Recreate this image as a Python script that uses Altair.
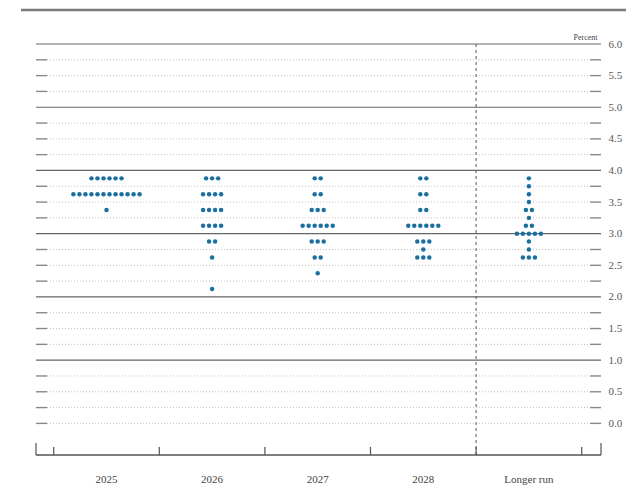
import altair as alt
import pandas as pd

# ---- data ----
categories = ["2025", "2026", "2027", "2028", "Longer run"]

levels_2025 = [3.875, 3.625, 3.375]
counts_2025 = [6, 12, 1]
levels_2026 = [3.875, 3.625, 3.375, 3.125, 2.875, 2.625, 2.125]
counts_2026 = [3, 4, 4, 4, 2, 1, 1]
levels_2027 = [3.875, 3.625, 3.375, 3.125, 2.875, 2.625, 2.375]
counts_2027 = [2, 2, 3, 6, 3, 2, 1]
levels_2028 = [3.875, 3.625, 3.375, 3.125, 2.875, 2.75, 2.625]
counts_2028 = [2, 2, 2, 6, 3, 1, 3]
levels_lr = [3.875, 3.75, 3.625, 3.5, 3.375, 3.25, 3.125, 3.0, 2.875, 2.75, 2.625]
counts_lr = [1, 1, 1, 1, 2, 1, 2, 5, 1, 1, 3]

y_labels = [0.0, 0.5, 1.0, 1.5, 2.0, 2.5, 3.0, 3.5, 4.0, 4.5, 5.0, 5.5, 6.0]
grid_levels = [i * 0.25 for i in range(25)]

# ---- build tables ----
columns = [
    (levels_2025, counts_2025),
    (levels_2026, counts_2026),
    (levels_2027, counts_2027),
    (levels_2028, counts_2028),
    (levels_lr, counts_lr),
]
DOT_STEP = 0.057
rows = []
for ci, (lv, cn) in enumerate(columns):
    for v, n in zip(lv, cn):
        for j in range(n):
            rows.append({"x": ci + (j - (n - 1) / 2) * DOT_STEP, "y": v, "cat": categories[ci]})
dots = pd.DataFrame(rows)

X0, X1 = -0.6676, 4.6828
XL, XR = -0.5634, 4.5786


def is_solid(g):
    return g >= 1 and float(g).is_integer()


solid = pd.DataFrame([{"y": g, "x": X0, "x2": X1} for g in grid_levels if is_solid(g)])
dotted = pd.DataFrame([{"y": g, "x": XL, "x2": XR} for g in grid_levels if not is_solid(g)])
dash_l = pd.DataFrame([{"y": g, "x": X0, "x2": XL} for g in grid_levels if not is_solid(g)])
dash_r = pd.DataFrame([{"y": g, "x": XR, "x2": X1} for g in grid_levels if not is_solid(g)])

cat_df = pd.DataFrame({"x": list(range(len(categories))), "label": categories})
edge_df = pd.DataFrame({"x": [i - 0.5 for i in range(len(categories) + 1)]})
end_df = pd.DataFrame({"x": [X0, X1]})
axis_df = pd.DataFrame({"x": [X0], "x2": [X1]})
sep_df = pd.DataFrame({"x": [len(categories) - 1.5], "y": [6.0], "y2": [-0.5]})

FONT = "Liberation Serif"
xscale = alt.Scale(domain=[X0, X1], nice=False, zero=False)
yscale = alt.Scale(domain=[-0.5, 6.0], nice=False, zero=False)
yaxis = alt.Axis(
    orient="right", values=y_labels, format=".1f", grid=False, ticks=False, domain=False,
    labelPadding=7, labelFont=FONT, labelFontSize=11, labelColor="#555",
    title="Percent", titleAngle=0, titleAlign="right", titleX=-4, titleY=-5,
    titleFont=FONT, titleFontSize=8, titleFontWeight="normal", titleColor="#444",
    titleBaseline="alphabetic",
)
X = alt.X("x:Q", scale=xscale, axis=None)
Y = alt.Y("y:Q", scale=yscale, axis=yaxis)

solid_l = alt.Chart(solid).mark_rule(color="#666", strokeWidth=1.2).encode(x=X, x2="x2", y=Y)
dotted_l = alt.Chart(dotted).mark_rule(color="#b0b0b0", strokeWidth=0.8, strokeDash=[1, 2]).encode(x=X, x2="x2", y=Y)
dl = alt.Chart(dash_l).mark_rule(color="#888", strokeWidth=1.4).encode(x=X, x2="x2", y=Y)
dr = alt.Chart(dash_r).mark_rule(color="#888", strokeWidth=1.4).encode(x=X, x2="x2", y=Y)

vdash = alt.Chart(sep_df).mark_rule(
    color="#555", strokeWidth=1, strokeDash=[3, 3]
).encode(x=X, y=Y, y2="y2")

points = alt.Chart(dots).mark_circle(size=20, color="#1b6fa0", opacity=1).encode(x=X, y=Y)

axis_line = alt.Chart(axis_df).mark_rule(color="#555", strokeWidth=1.5).encode(
    x=X, x2="x2", y=alt.value(411)
)
band_ticks = alt.Chart(edge_df).mark_rule(color="#555", strokeWidth=1.2).encode(
    x=X, y=alt.value(403), y2=alt.value(411)
)
end_ticks = alt.Chart(end_df).mark_rule(color="#555", strokeWidth=1.2).encode(
    x=X, y=alt.value(399), y2=alt.value(411)
)
xlabels = alt.Chart(cat_df).mark_text(
    font=FONT, fontSize=11, color="#444", baseline="middle", align="center"
).encode(x=X, y=alt.value(436), text="label:N")

top_line = alt.Chart(pd.DataFrame({"a": [0]})).mark_rule(color="#7a7a7a", strokeWidth=2.5).encode(
    x=alt.value(-15), x2=alt.value(590), y=alt.value(-34)
)

chart = alt.layer(
    dotted_l, dl, dr, solid_l, vdash, points, axis_line, band_ticks, end_ticks, xlabels, top_line
).properties(
    width=565, height=411, autosize="none", background="white",
    padding={"left": 28, "top": 36, "right": 31, "bottom": 35},
).configure_view(stroke=None)

chart.save("out.html", embed_options={"renderer": "svg", "actions": False})
